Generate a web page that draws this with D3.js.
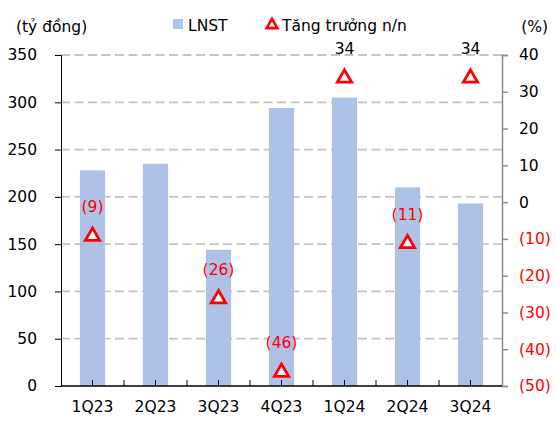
<!DOCTYPE html>
<html><head><meta charset="utf-8">
<script src="https://cdn.jsdelivr.net/npm/d3@7"></script>
<style>body{margin:0;background:#fff}svg{display:block}text{font-family:"DejaVu Sans",sans-serif}</style>
</head><body><svg id="c" width="556" height="424"></svg>
<script>
const categories = ["1Q23","2Q23","3Q23","4Q23","1Q24","2Q24","3Q24"];
const profit = [228, 235, 144, 294, 305, 210, 193];
const growth = [-9, null, -26, -46, 34, -11, 34];
const leftTicks = [0,50,100,150,200,250,300,350];
const rightTicks = [40,30,20,10,0,-10,-20,-30,-40,-50];

const svg = d3.select("#c");
const L = 61, R = 502, T = 55, B = 386;
const x = d3.scaleBand().domain(categories).range([L,R]).paddingInner(0.6).paddingOuter(0.3);
const yL = d3.scaleLinear().domain([0,350]).range([B,T]);
const yR = d3.scaleLinear().domain([-50,40]).range([B,T]);
const fs = 15.5;

// gridlines
svg.append("g").selectAll("line").data(leftTicks.filter(d=>d>0)).join("line")
  .attr("x1",L).attr("x2",R).attr("y1",d=>yL(d)).attr("y2",d=>yL(d))
  .attr("stroke","#c4c4c4").attr("stroke-width",1.8).attr("stroke-dasharray","9,4.5");

// bars
svg.append("g").selectAll("rect").data(categories).join("rect")
  .attr("x",d=>x(d)).attr("width",x.bandwidth())
  .attr("y",(d,i)=>yL(profit[i])).attr("height",(d,i)=>B-yL(profit[i]))
  .attr("fill","#adc2e6");

// left axis
const la = svg.append("g").attr("transform",`translate(${L},0)`)
  .call(d3.axisLeft(yL).tickValues(leftTicks).tickSize(6).tickPadding(18));
la.select(".domain").attr("stroke","#000");
la.selectAll(".tick line").attr("stroke","#000");
la.selectAll("text").attr("font-size",fs).attr("fill","#000").attr("font-family","DejaVu Sans");

// right axis
const ra = svg.append("g").attr("transform",`translate(${R},0)`)
  .call(d3.axisRight(yR).tickValues(rightTicks).tickSize(6).tickPadding(11)
    .tickFormat(d=>d<0?`(${-d})`:d));
ra.select(".domain").attr("stroke","#8c8c8c").attr("stroke-width",1.5);
ra.selectAll(".tick line").attr("stroke","#8c8c8c").attr("stroke-width",1.5);
ra.selectAll("text").attr("font-size",fs).attr("font-family","DejaVu Sans")
  .attr("fill",d=>d<0?"#ff0000":"#000");

// x axis
const xa = svg.append("g").attr("transform",`translate(0,${B})`)
  .call(d3.axisBottom(x).tickSize(0).tickPadding(15));
xa.select(".domain").remove();
xa.selectAll("text").attr("font-size",fs).attr("fill","#000").attr("font-family","DejaVu Sans");
svg.append("line").attr("x1",L).attr("x2",R).attr("y1",B).attr("y2",B).attr("stroke","#000").attr("stroke-width",1.3);
const step = x.step();
const tickXs = [];
categories.forEach((c,i)=>{ tickXs.push(x(c)+x.bandwidth()/2); if(i<categories.length-1) tickXs.push(x(c)+x.bandwidth()/2+step/2); });
svg.append("g").selectAll("line").data(tickXs).join("line")
  .attr("x1",d=>d).attr("x2",d=>d).attr("y1",B).attr("y2",B-6)
  .attr("stroke","#000").attr("stroke-width",1);

// markers
const tri = d3.symbol(d3.symbolTriangle).size(88);
const gd = categories.map((c,i)=>({c,v:growth[i]})).filter(d=>d.v!==null);
svg.append("g").selectAll("path").data(gd).join("path")
  .attr("d",tri)
  .attr("transform",d=>`translate(${x(d.c)+x.bandwidth()/2},${yR(d.v)+1})`)
  .attr("fill","#fff").attr("stroke","#ff0000").attr("stroke-width",2.8);
svg.append("g").selectAll("text").data(gd).join("text")
  .attr("x",d=>x(d.c)+x.bandwidth()/2).attr("y",d=>yR(d.v)-23)
  .attr("text-anchor","middle").attr("font-size",fs)
  .attr("fill",d=>d.v<0?"#ff0000":"#000")
  .text(d=>d.v<0?`(${-d.v})`:d.v);

// titles
svg.append("text").attr("x",16).attr("y",32).attr("font-size",fs).attr("fill","#000").text("(tỷ đồng)");
svg.append("text").attr("x",548).attr("y",32).attr("text-anchor","end").attr("font-size",fs).attr("fill","#000").text("(%)");

// legend
svg.append("rect").attr("x",173).attr("y",19).attr("width",10).attr("height",10).attr("fill","#adc2e6");
svg.append("text").attr("x",188).attr("y",31).attr("font-size",fs).attr("fill","#000").text("LNST");
svg.append("path").attr("d",d3.symbol(d3.symbolTriangle).size(50)).attr("transform","translate(272,25)")
  .attr("fill","#fff").attr("stroke","#ff0000").attr("stroke-width",2.6);
svg.append("text").attr("x",282).attr("y",31).attr("font-size",fs).attr("fill","#000").text("Tăng trưởng n/n");
</script></body></html>
